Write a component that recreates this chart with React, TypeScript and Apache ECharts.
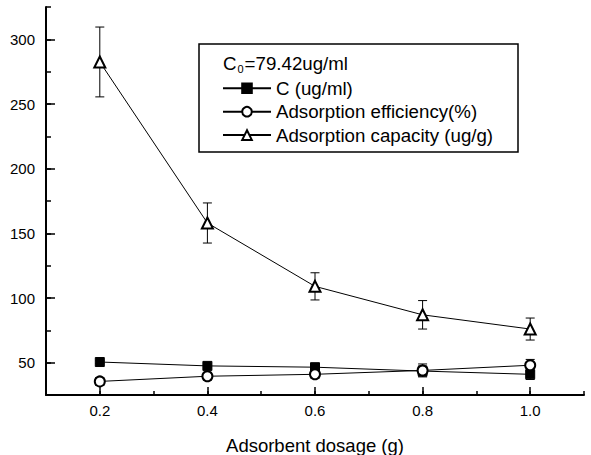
import { useEffect, useRef } from "react";
import * as echarts from "echarts";

const dosage = [0.2, 0.4, 0.6, 0.8, 1.0];
const concentration = [50.5, 47.5, 46.5, 43.5, 41];
const concentrationErr = [1, 1.5, 1.5, 4, 4];
const efficiency = [35.5, 39.5, 41, 44, 48];
const efficiencyErr = [3, 3, 3, 5, 4.5];
const capacity = [282.5, 158, 109, 87, 76];
const capacityErr = [27, 15.5, 10.5, 11, 8.5];

const seriesNames = ["C (ug/ml)", "Adsorption efficiency(%)", "Adsorption capacity (ug/g)"];
const yMajorTicks = [50, 100, 150, 200, 250, 300];
const xMajorTicks = [0.2, 0.4, 0.6, 0.8, 1.0];
const xTitle = "Adsorbent dosage (g)";
const noteText = "{a|C}{b|0}{a|=79.42ug/ml}";

const FONT = "'Liberation Sans', Arial, Helvetica, sans-serif";

function errData(vals: number[], errs: number[]) {
  return dosage.map((x, i) => [x, vals[i] - errs[i], vals[i] + errs[i]]);
}

function errSeries(name: string, vals: number[], errs: number[]) {
  return {
    type: "custom",
    name,
    z: 1,
    silent: true,
    encode: { x: 0, y: [1, 2] },
    data: errData(vals, errs),
    renderItem: (_params: any, api: any) => {
      const x = api.value(0);
      const lo = api.value(1);
      const hi = api.value(2);
      const top = api.coord([x, hi]);
      const bot = api.coord([x, lo]);
      const hw = 4.5;
      const style = { stroke: "#000", lineWidth: 1 };
      return {
        type: "group",
        children: [
          { type: "line", shape: { x1: top[0], y1: top[1], x2: bot[0], y2: bot[1] }, style },
          { type: "line", shape: { x1: top[0] - hw, y1: top[1], x2: top[0] + hw, y2: top[1] }, style },
          { type: "line", shape: { x1: bot[0] - hw, y1: bot[1], x2: bot[0] + hw, y2: bot[1] }, style },
        ],
      };
    },
  };
}

function lineSeries(name: string, vals: number[], symbol: string, size: number) {
  return {
    type: "line",
    name,
    z: 3,
    symbol,
    symbolSize: size,
    showAllSymbol: true,
    data: dosage.map((x, i) => [x, vals[i]]),
    lineStyle: { color: "#000", width: 1 },
    itemStyle: { color: "#000", borderColor: "#000", borderWidth: 1 },
    emphasis: { disabled: true },
  };
}

export default function App() {
  const ref = useRef<HTMLDivElement>(null);
  useEffect(() => {
    document.body.style.margin = "0";
    if (!ref.current) return;
    const chart = echarts.init(ref.current, undefined, { renderer: "svg" });
    const axisLineStyle = { color: "#000", width: 2 };
    chart.setOption({
      animation: false,
      backgroundColor: "#fff",
      textStyle: { fontFamily: FONT, color: "#000" },
      grid: { left: 46, right: 7, top: 7, bottom: 60, containLabel: false, outerBoundsMode: "none" },
      xAxis: [
        {
          type: "value",
          min: 0.1,
          max: 1.1,
          interval: 0.1,
          name: xTitle,
          nameLocation: "middle",
          nameGap: 41,
          nameTextStyle: { fontSize: 18.5, color: "#000", fontFamily: FONT },
          axisLine: { show: true, lineStyle: axisLineStyle },
          axisTick: { show: true, inside: true, length: 4, lineStyle: { color: "#000", width: 1.5 } },
          axisLabel: {
            show: true,
            customValues: xMajorTicks,
            formatter: (v: number) => v.toFixed(1),
            fontSize: 15,
            color: "#000",
            fontFamily: FONT,
            margin: 8,
          },
          splitLine: { show: false },
        },
        {
          type: "value",
          min: 0.1,
          max: 1.1,
          position: "bottom",
          axisLine: { show: false },
          axisTick: {
            show: true,
            inside: true,
            length: 8,
            customValues: xMajorTicks,
            lineStyle: { color: "#000", width: 1.5 },
          },
          axisLabel: { show: false },
          splitLine: { show: false },
        },
      ],
      yAxis: [
        {
          type: "value",
          min: 25,
          max: 325,
          interval: 25,
          axisLine: { show: true, lineStyle: axisLineStyle },
          axisTick: { show: true, inside: true, length: 5, lineStyle: { color: "#000", width: 1.5 } },
          axisLabel: {
            show: true,
            customValues: yMajorTicks,
            fontSize: 15,
            color: "#000",
            fontFamily: FONT,
            margin: 11,
          },
          splitLine: { show: false },
        },
        {
          type: "value",
          min: 25,
          max: 325,
          position: "left",
          axisLine: { show: false },
          axisTick: {
            show: true,
            inside: true,
            length: 9,
            customValues: yMajorTicks,
            lineStyle: { color: "#000", width: 1.5 },
          },
          axisLabel: { show: false },
          splitLine: { show: false },
        },
      ],
      legend: {
        orient: "vertical",
        left: 222,
        top: 76.6,
        padding: 0,
        itemGap: 0,
        itemWidth: 48,
        itemHeight: 12,
        selectedMode: false,
        data: seriesNames,
        textStyle: { fontSize: 18.7, lineHeight: 23.4, color: "#000", fontFamily: FONT },
      },
      graphic: [
        {
          type: "rect",
          shape: { x: 199, y: 44, width: 319, height: 108 },
          style: { fill: "none", stroke: "#000", lineWidth: 1.5 },
          z: 0,
          silent: true,
        },
        {
          type: "text",
          x: 223,
          y: 63,
          silent: true,
          style: {
            text: noteText,
            verticalAlign: "middle",
            fill: "#000",
            rich: {
              a: { fontSize: 18.7, fontFamily: FONT, fill: "#000", color: "#000", lineHeight: 22 },
              b: {
                fontSize: 11,
                fontFamily: FONT,
                fill: "#000",
                color: "#000",
                lineHeight: 22,
                verticalAlign: "bottom",
                padding: [6, 1, 0, 1],
              },
            },
          },
        },
      ],
      series: [
        errSeries("errC", concentration, concentrationErr),
        errSeries("errE", efficiency, efficiencyErr),
        errSeries("errQ", capacity, capacityErr),
        lineSeries(seriesNames[0], concentration, "rect", 9),
        lineSeries(seriesNames[1], efficiency, "emptyCircle", 10),
        lineSeries(seriesNames[2], capacity, "emptyTriangle", 11),
      ],
    });
    return () => chart.dispose();
  }, []);
  return <div ref={ref} style={{ position: "fixed", left: 0, top: 0, width: 591, height: 455 }} />;
}
